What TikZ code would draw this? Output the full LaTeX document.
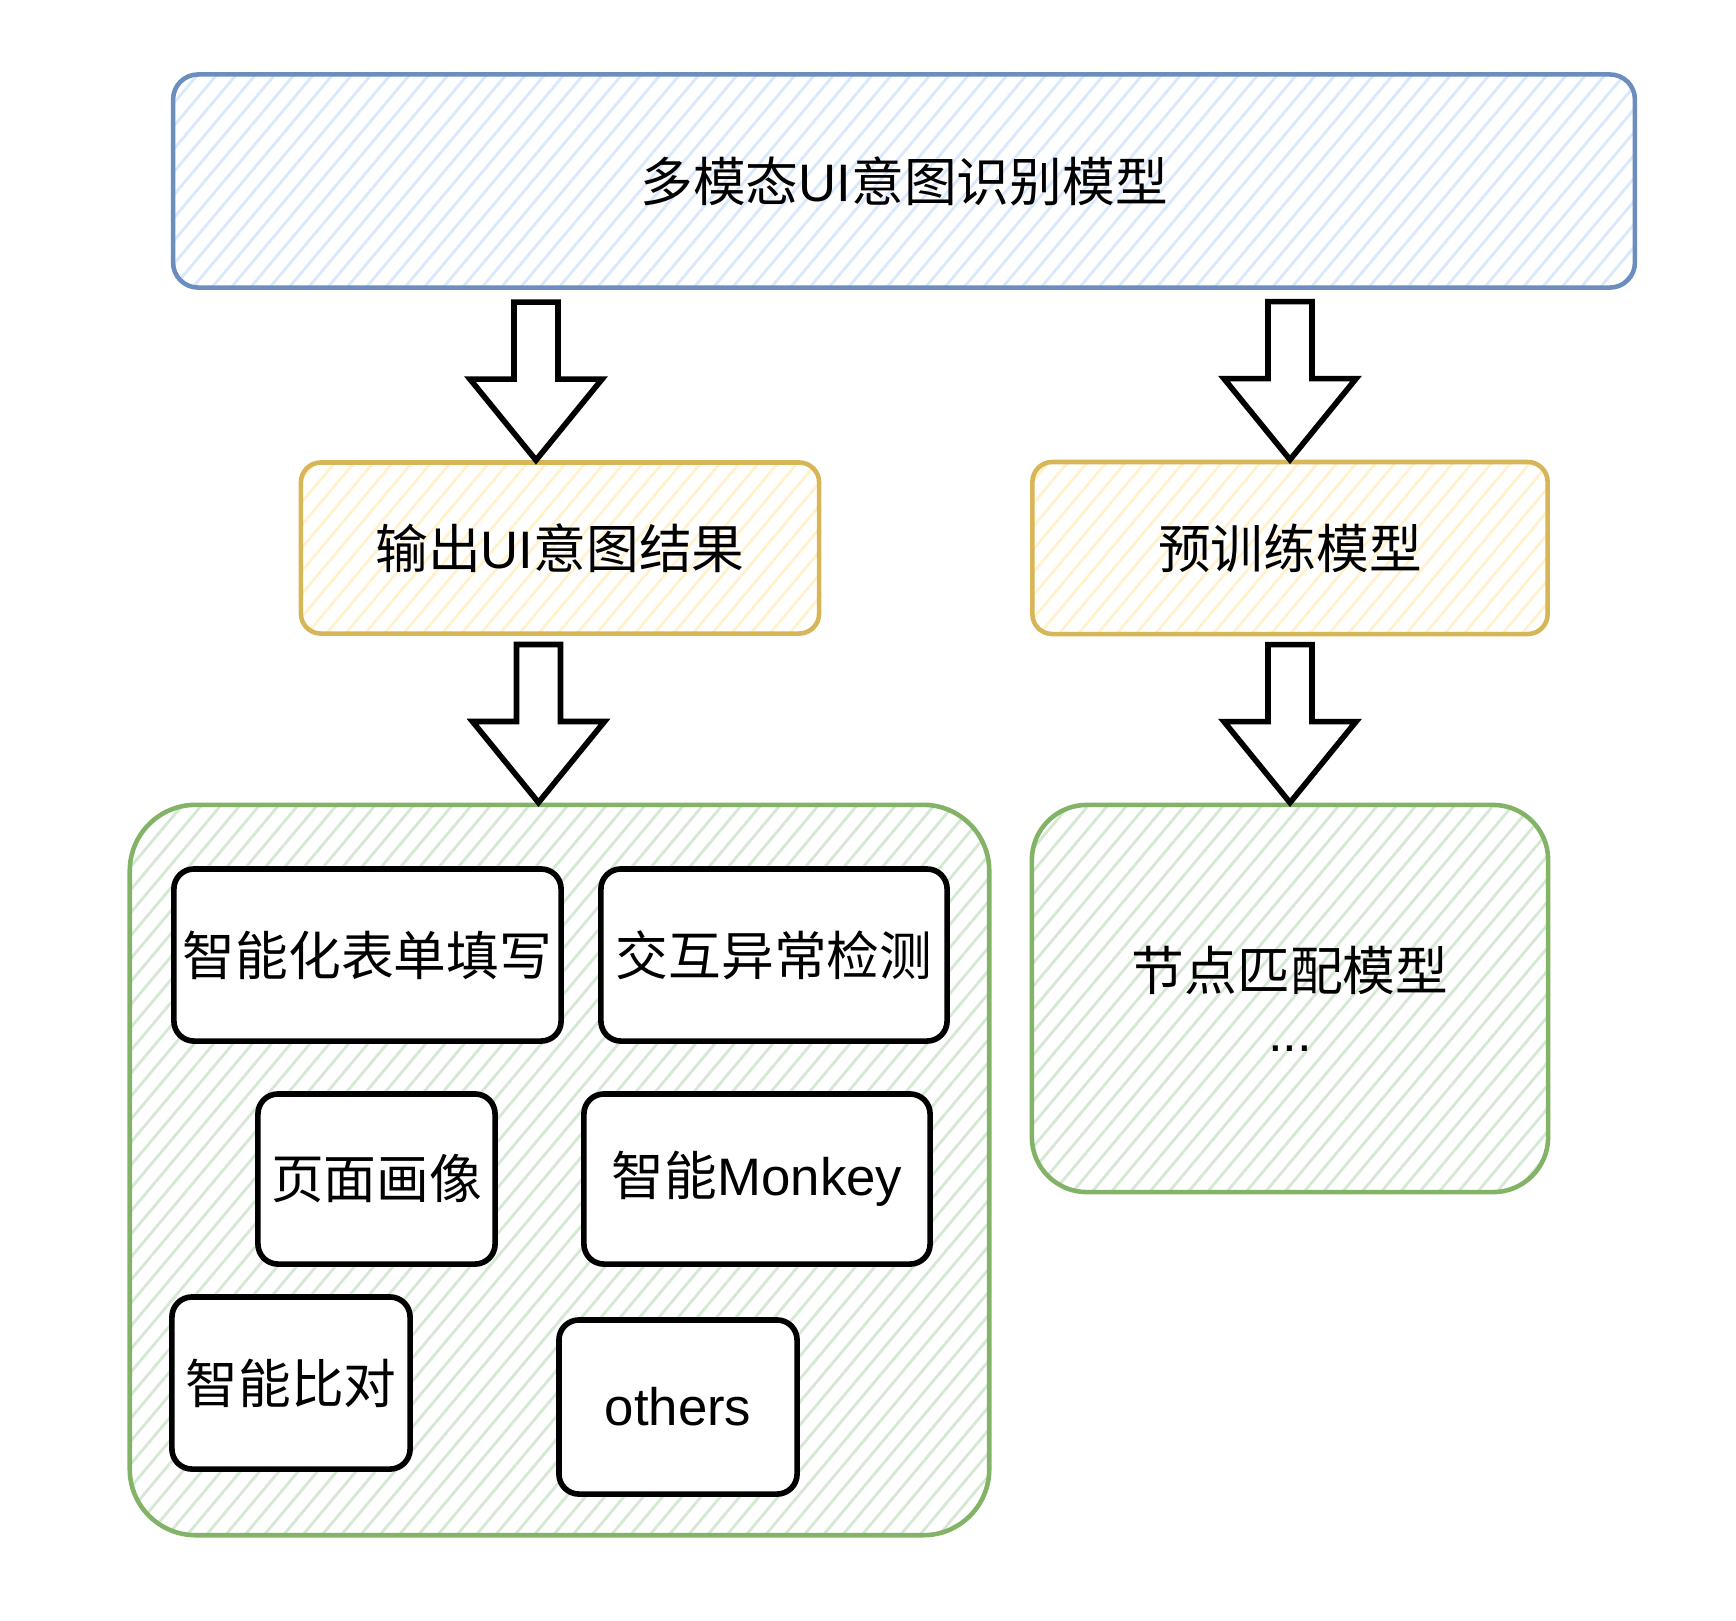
\documentclass[tikz,border=0pt]{standalone}
\usepackage{fontspec}
\setmainfont{Noto Sans CJK SC}
\newfontfamily\enfont{Liberation Sans}
\usepackage{tikz}
\usetikzlibrary{patterns.meta,calc}

\definecolor{lineblue}{HTML}{6C8EBF}
\definecolor{hatchblue}{HTML}{DAE8FC}
\definecolor{lineyellow}{HTML}{D6B656}
\definecolor{hatchyellow}{HTML}{FFF2CC}
\definecolor{linegreen}{HTML}{82B366}
\definecolor{hatchgreen}{HTML}{D5E8D4}

\tikzset{
  panel/.style={draw, line width=1.3pt, inner sep=0pt, align=center,
    font=\fontsize{15pt}{21pt}\selectfont},
  modelbox/.style={panel, draw=lineblue, rounded corners=0.25cm,
    pattern={Lines[angle=50,distance=4.2pt,line width=0.8pt]}, pattern color=hatchblue},
  resultbox/.style={panel, draw=lineyellow, rounded corners=0.2cm,
    pattern={Lines[angle=50,distance=4.2pt,line width=0.8pt]}, pattern color=hatchyellow},
  groupbox/.style={panel, draw=linegreen, rounded corners=0.55cm,
    pattern={Lines[angle=50,distance=4.2pt,line width=0.8pt]}, pattern color=hatchgreen},
  taskbox/.style={panel, draw=black, fill=white, line width=1.6pt, rounded corners=0.2cm},
  hollow/.style={draw=black, fill=white, line width=1.6pt, line join=miter}
}

% hollow block arrow, #1 = tip
\newcommand{\hollowarrow}[1]{%
  \draw[hollow] (#1) ++(-22,-158) -- ++(0,77) -- ++(-44,0) -- (#1)
    -- ++(66,-81) -- ++(-44,0) -- ++(0,-77) -- cycle;}

\begin{document}
\begin{tikzpicture}[x=0.01cm,y=-0.01cm]
  \useasboundingbox (0,0) rectangle (1736,1620);
  % top model
  \node[modelbox, minimum width=14.61cm, minimum height=2.13cm] (model) at (904,181)
    {多模态{\enfont UI}意图识别模型};
  % second row
  \node[resultbox, minimum width=5.18cm, minimum height=1.71cm] (result) at (560,548)
    {输出{\enfont UI}意图结果};
  \node[resultbox, minimum width=5.15cm, minimum height=1.72cm] (pretrain) at (1290,548)
    {预训练模型};
  % groups
  \node[groupbox, rounded corners=0.66cm, minimum width=8.59cm, minimum height=7.30cm] (apps)
    at (559.5,1170) {};
  \node[groupbox, minimum width=5.16cm, minimum height=3.87cm] (match) at (1290,998.5)
    {节点匹配模型\\[-0.13cm]{\enfont ...}};
  % tasks
  \node[taskbox, minimum width=3.87cm, minimum height=1.72cm] (form) at (367.5,955) {智能化表单填写};
  \node[taskbox, minimum width=3.46cm, minimum height=1.72cm] (anomaly) at (774,955) {交互异常检测};
  \node[taskbox, minimum width=2.37cm, minimum height=1.70cm] (profile) at (376.5,1179) {页面画像};
  \node[taskbox, minimum width=3.46cm, minimum height=1.70cm] (monkey) at (757,1179) {智能{\enfont Monkey}};
  \node[taskbox, minimum width=2.38cm, minimum height=1.72cm] (compare) at (291,1383) {智能比对};
  \node[taskbox, minimum width=2.38cm, minimum height=1.74cm] (others) at (678,1407) {{\enfont others}};
  % arrows
  \hollowarrow{$(result.north)+(-24,0)$}
  \hollowarrow{pretrain.north}
  \hollowarrow{$(apps.north)+(-21,0)$}
  \hollowarrow{match.north}
\end{tikzpicture}
\end{document}
